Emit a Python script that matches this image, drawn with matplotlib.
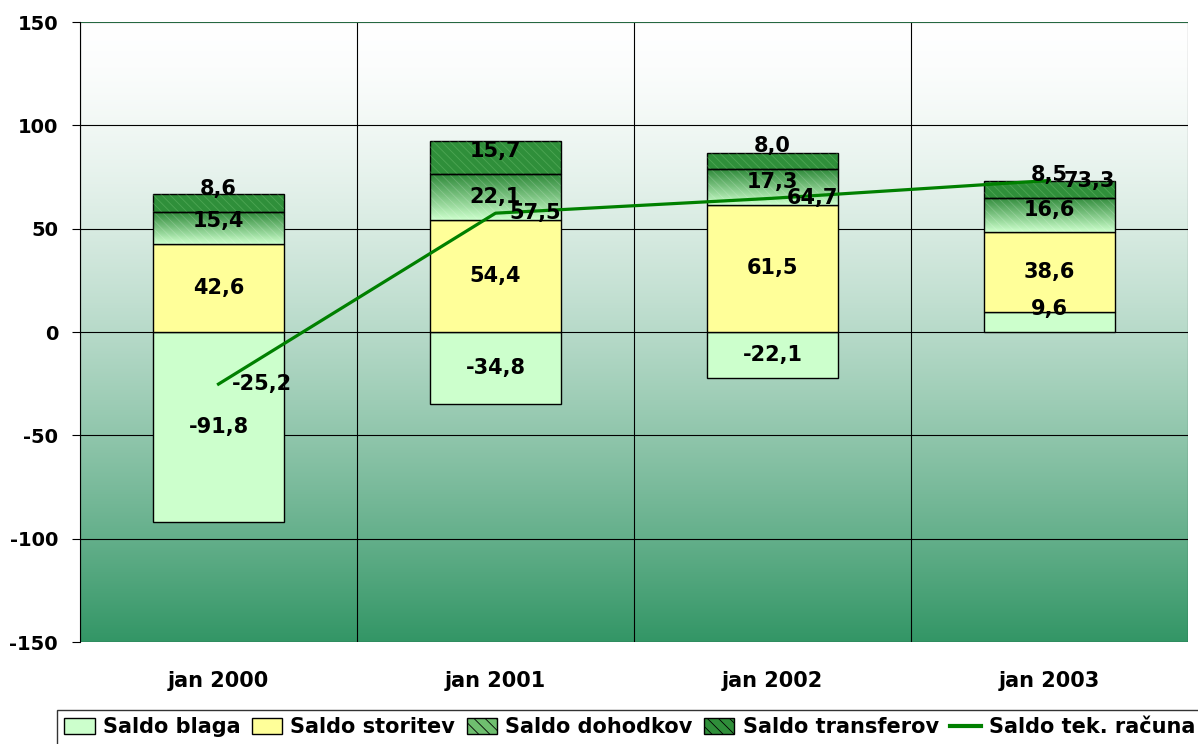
import numpy as np
import matplotlib
matplotlib.use("Agg")
import matplotlib.pyplot as plt
from matplotlib.patches import Patch
from matplotlib.lines import Line2D
from matplotlib.colors import LinearSegmentedColormap

plt.rcParams['font.family'] = ['DejaVu Sans']
plt.rcParams['font.weight'] = 'bold'
plt.rcParams['hatch.linewidth'] = 0.6

categories = ['jan 2000', 'jan 2001', 'jan 2002', 'jan 2003']
blaga = [-91.8, -34.8, -22.1, 9.6]
storitev = [42.6, 54.4, 61.5, 38.6]
dohodkov = [15.4, 22.1, 17.3, 16.6]
transferov = [8.6, 15.7, 8.0, 8.5]
tek_racuna = [-25.2, 57.5, 64.7, 73.3]
yticks = [-150, -100, -50, 0, 50, 100, 150]

def fmt(v):
    return f"{v:.1f}".replace('.', ',')

fig = plt.figure(figsize=(11.98, 7.44), dpi=100)
ax = fig.add_axes([80/1198, 1-642/744, 1108/1198, 620/744])
ax.set_xlim(0, 4)
ax.set_ylim(-150, 150)

# background gradient
t = np.linspace(0, 1, 256)[:, None] ** 1.5
top = np.array([1.0, 1.0, 1.0])
bot = np.array([0x33, 0x96, 0x66]) / 255
grad = top + (bot - top) * t[..., None]
grad = np.repeat(grad, 2, axis=1)
ax.imshow(grad, extent=[0, 4, -150, 150], aspect='auto', zorder=0, origin='upper')

for y in yticks:
    ax.axhline(y, color='black', lw=0.8, zorder=1)
for xv in range(5):
    ax.axvline(xv, color='black', lw=0.8, zorder=1)
ax.axhline(150, color='#2e7d4f', lw=1.2, zorder=1)

x = np.arange(len(categories)) + 0.5
w = 0.47
fs = 15

dcmap = LinearSegmentedColormap.from_list('d', ['#2f8a3a', '#ccffcc'])
for i in range(len(categories)):
    pos = 0.0
    neg = 0.0
    segs = []
    for name, arr in [('b', blaga), ('s', storitev), ('d', dohodkov), ('t', transferov)]:
        v = arr[i]
        if v >= 0:
            b0 = pos
            pos += v
        else:
            b0 = neg + v
            neg += v
        segs.append((name, b0, abs(v), v))
    for name, b0, h, v in segs:
        if name == 'b':
            ax.bar(x[i], h, w, bottom=b0, color='#ccffcc', edgecolor='black', lw=1, zorder=2)
        elif name == 's':
            ax.bar(x[i], h, w, bottom=b0, color='#ffff99', edgecolor='black', lw=1, zorder=2)
        elif name == 'd':
            bars = ax.bar(x[i], h, w, bottom=b0, color='none', edgecolor='black', lw=1, zorder=4)
            g = np.linspace(0, 1, 64)[:, None]
            im = ax.imshow(np.repeat(g, 2, axis=1), cmap=dcmap, extent=[x[i]-w/2, x[i]+w/2, b0, b0+h],
                           aspect='auto', origin='upper', zorder=2)
            im.set_clip_path(bars[0])
            ax.bar(x[i], h, w, bottom=b0, color='none', edgecolor='#ffffff', alpha=0.18, lw=0, hatch='\\\\\\\\', zorder=3)
        else:
            ax.bar(x[i], h, w, bottom=b0, color='#2f8f3a', edgecolor='black', lw=1, zorder=2)
            ax.bar(x[i], h, w, bottom=b0, color='none', edgecolor='#8fd88f', alpha=0.3, lw=0, hatch='\\\\\\\\', zorder=3)
        if v >= 0:
            yc = max(b0 + h/2, b0 + 11)
        else:
            yc = b0 + h/2
        ax.text(x[i], yc, fmt(v), ha='center', va='center', fontsize=fs, fontweight='bold', zorder=6)

ax.plot(x, tek_racuna, color='#008000', lw=2.3, zorder=5)
for xi, v in zip(x, tek_racuna):
    ax.text(xi + 0.05, v, fmt(v), ha='left', va='center', fontsize=fs, fontweight='bold', zorder=6)

ax.set_yticks(yticks)
ax.set_yticklabels([str(v) for v in yticks], fontsize=14, fontweight='bold')
ax.set_xticks(x)
ax.set_xticklabels(categories, fontsize=fs, fontweight='bold')
ax.tick_params(axis='x', length=0, pad=21)
ax.tick_params(axis='y', length=5.8, pad=10)
for s in ['top', 'right', 'bottom']:
    ax.spines[s].set_visible(False)
ax.spines['left'].set_color('black')

handles = [
    Patch(facecolor='#ccffcc', edgecolor='black', label='Saldo blaga'),
    Patch(facecolor='#ffff99', edgecolor='black', label='Saldo storitev'),
    Patch(facecolor='#6fbf6f', edgecolor='black', hatch='\\\\\\', label='Saldo dohodkov'),
    Patch(facecolor='#2f8f3a', edgecolor='black', hatch='\\\\\\', label='Saldo transferov'),
    Line2D([0], [0], color='#008000', lw=3, label='Saldo tek. računa'),
]
leg = fig.legend(handles=handles, loc='upper left', bbox_to_anchor=(57/1198, 1-710/744), ncol=5,
                 frameon=True, fancybox=False, edgecolor='black',
                 handlelength=1.45, handleheight=0.8, handletextpad=0.4, columnspacing=0.55,
                 borderpad=0.35, borderaxespad=0, prop={'weight': 'bold', 'size': 15})
leg.get_frame().set_linewidth(1)

fig.savefig('out.png', dpi=100, facecolor='white')
